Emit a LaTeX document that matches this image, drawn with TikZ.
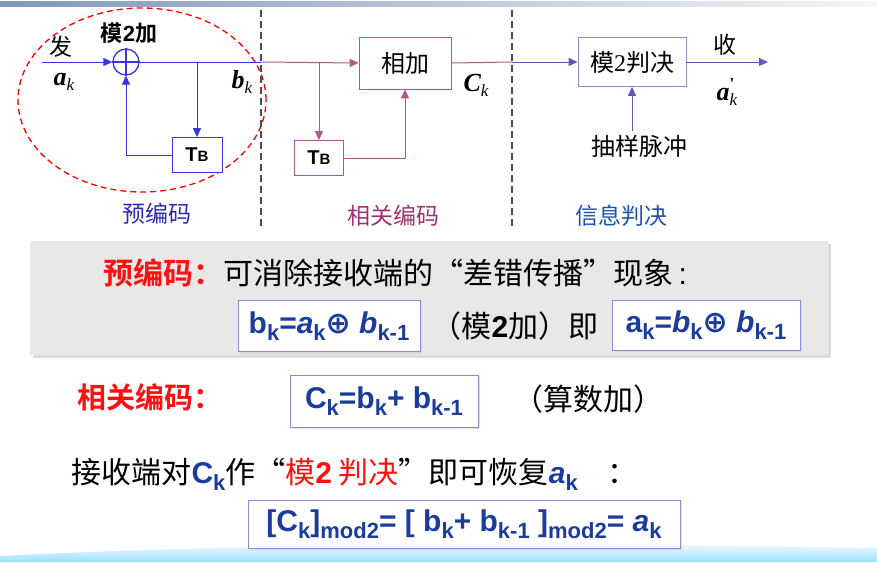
\documentclass[tikz,border=0pt]{standalone}
\usepackage{fontspec}
\setmainfont{Liberation Sans}
\newfontfamily\cjk{Noto Sans CJK SC}[BoldFont={Noto Sans CJK SC Bold}]
\newfontfamily\timesf{Liberation Serif}
\newfontfamily\symf{DejaVu Sans}
\usetikzlibrary{positioning, calc, arrows.meta, shadows}
\definecolor{lineBlue}{HTML}{3636E6}
\definecolor{linePink}{HTML}{B0588C}
\definecolor{lineViolet}{HTML}{5A5AB8}
\definecolor{boxViolet}{HTML}{8A8AD6}
\definecolor{textBlue}{HTML}{1B3C9B}
\definecolor{labelBlue}{HTML}{2A2AB0}
\definecolor{labelPink}{HTML}{A0306E}
\definecolor{labelInfo}{HTML}{2050B0}
\definecolor{panelGray}{HTML}{E8E8E8}
\definecolor{barBlue}{HTML}{7F97B8}
\definecolor{mathRed}{HTML}{FF1010}
% diagram symbols: bold italic letter with italic subscript
\newcommand{\SymK}[2]{{\timesf\bfseries\itshape #1}\raisebox{-5pt}{\fontsize{17}{17}\selectfont\timesf\itshape #2}}
% formula subscript
\newcommand{\Fsub}[1]{\raisebox{-7pt}{\fontsize{22}{22}\selectfont #1}}
\newcommand{\Oplus}{{\symf ⊕}}
\newcommand{\DelayText}{{\fontsize{20}{20}\selectfont\bfseries T}{\fontsize{15}{15}\selectfont\bfseries B}}
% full width quotes
\newcommand{\Lq}{\makebox[1em][r]{“}}
\newcommand{\Rq}{\makebox[1em][l]{”}}

\begin{document}
\begin{tikzpicture}[x=1pt, y=-1pt,
    flowarrow/.style={-{Triangle[length=9pt, width=8pt]}},
    blueline/.style={draw=lineBlue, line width=1pt},
    pinkline/.style={draw=linePink, line width=1pt},
    violetline/.style={draw=lineViolet, line width=1pt},
    diagtext/.style={font=\fontsize{23}{23}\selectfont\cjk},
    delaybox/.style={draw, line width=0.8pt, fill=white, minimum width=50pt, minimum height=35pt, inner sep=0pt},
    fbox/.style={draw=boxViolet, line width=0.9pt, fill=white, inner sep=0pt,
        drop shadow={shadow xshift=2pt, shadow yshift=-2pt, fill=gray!40},
        font=\fontsize{30}{30}\selectfont\bfseries, text=textBlue},
    linetext/.style={anchor=base west, font=\fontsize{30}{30}\selectfont\cjk},
    divider/.style={draw=black!70, line width=1.2pt, dash pattern=on 7pt off 4pt}
]
\useasboundingbox (0,0) rectangle (877,562);

% --- top bar and bottom wave ---
\shade[left color=barBlue, right color=barBlue!8] (0,1) rectangle (877,6);
\shade[top color=white, bottom color=blue!30!cyan!40] (0,562) -- (0,556) .. controls (300,541) and (600,543) .. (877,548) -- (877,562) -- cycle;

% --- pre-coding ---
\draw[red, line width=1.3pt, dash pattern=on 6pt off 4pt] (142,100) ellipse [x radius=124pt, y radius=92pt];
\coordinate (src) at (42,62);
\node[circle, draw=lineBlue, line width=1.3pt, minimum size=26pt, inner sep=0pt] (adder) at (126,62) {};
\draw[lineBlue, line width=1.3pt] (adder.north) -- (adder.south) (adder.west) -- (adder.east);
\node[delaybox, draw=lineBlue] (delayA) at (197,155) {\DelayText};
\coordinate (cutA) at (261,62);
\coordinate (tapA) at (197,62);
\draw[blueline, flowarrow] (src) -- (adder.west);
\draw[blueline] (adder.east) -- (cutA);
\draw[blueline, flowarrow] (tapA) -- (delayA.north);
\draw[blueline, flowarrow] (delayA.west) -| (adder.south);
\node[diagtext] (sendLbl) at (61,47) {发};
\node[font=\fontsize{26}{26}\selectfont] (akLbl) at (64,82) {\SymK{a}{k}};
\node[diagtext, font=\fontsize{22}{22}\selectfont\cjk\bfseries] (addLbl) at (129,33) {模{\rmfamily 2}加};
\node[font=\fontsize{26}{26}\selectfont] (bkLbl) at (242,82) {\SymK{b}{k}};
\node[diagtext, text=labelBlue] (preLbl) at (157,214) {预编码};

% --- correlative coding ---
\node[delaybox, draw=linePink, minimum width=92pt, minimum height=52pt, font=\fontsize{24}{24}\selectfont\cjk] (sumBox) at (405,63) {相加};
\node[delaybox, draw=linePink, minimum width=49pt] (delayB) at (319,158) {\DelayText};
\coordinate (tapB) at (319,62);
\coordinate (cutB) at (512,62);
\draw[pinkline, flowarrow] (cutA) -- (sumBox.west);
\draw[pinkline, flowarrow] (tapB) -- (delayB.north);
\draw[pinkline, flowarrow] (delayB.east) -| (sumBox.south);
\draw[pinkline] (sumBox.east) -- (cutB);
\node[font=\fontsize{26}{26}\selectfont] (ckLbl) at (476,85) {\SymK{C}{k}};
\node[diagtext, text=labelPink] (corLbl) at (393,216) {相关编码};

% --- decision ---
\node[delaybox, draw=boxViolet, minimum width=108pt, minimum height=49pt, font=\fontsize{24}{24}\selectfont\cjk] (decBox) at (632,62) {模{\timesf 2}判决};
\coordinate (sink) at (768,62);
\node[diagtext, font=\fontsize{24}{24}\selectfont\cjk] (pulse) at (639,146) {抽样脉冲};
\draw[violetline, flowarrow] (decBox.east) -- (sink);
\draw[violetline, flowarrow] (cutB) -- (decBox.west);
\draw[violetline, flowarrow] (pulse.north -| decBox.south) -- (decBox.south);
\node[diagtext] (recvLbl) at (725,45) {收};
\node[font=\fontsize{26}{26}\selectfont] (akOut) at (727,92) {{\timesf\bfseries\itshape a}\rlap{\raisebox{11pt}{\fontsize{17}{17}\selectfont\timesf\bfseries '}}\raisebox{-5pt}{\fontsize{17}{17}\selectfont\timesf\itshape k}};
\node[diagtext, text=labelInfo] (infoLbl) at (621,216) {信息判决};

% --- dividers ---
\draw[divider] (261,10) -- (261,228);
\draw[divider] (512,10) -- (512,228);

% --- notes panel ---
\fill[panelGray, drop shadow={shadow xshift=3pt, shadow yshift=-3pt, fill=gray!55}] (30,241) rectangle (828,355);
\node[linetext] (noteA) at (100,284) {\textcolor{mathRed}{\bfseries 预编码：}可消除接收端的\Lq 差错传播\Rq 现象{\rmfamily\,:}};
\node[fbox, minimum width=182pt, minimum height=51pt] (eqA) at (329,326) {b\Fsub{k}=\textit{a}\Fsub{k}\Oplus\ \textit{b}\Fsub{k-1}};
\node[linetext] (noteB) at (428,337) {（模{\rmfamily\bfseries 2}加）即};
\node[fbox, minimum width=188pt, minimum height=50pt] (eqB) at (706,325) {a\Fsub{k}=\textit{b}\Fsub{k}\Oplus\ \textit{b}\Fsub{k-1}};

% --- correlative rule ---
\node[linetext, text=mathRed, font=\fontsize{29}{29}\selectfont\cjk\bfseries] (noteC) at (74,408) {相关编码：};
\node[fbox, minimum width=188pt, minimum height=52pt] (eqC) at (384,401) {C\Fsub{k}=b\Fsub{k}+ b\Fsub{k-1}};
\node[linetext] (noteD) at (510,410) {（算数加）};

% --- recovery ---
\node[linetext] (noteE) at (68,483) {接收端对{\rmfamily\bfseries\color{textBlue}C\Fsub{k}}作\Lq\textcolor{mathRed}{模{\rmfamily\bfseries 2} 判决}\Rq 即可恢复{\rmfamily\bfseries\itshape\color{textBlue}a\Fsub{\upshape k}}\quad ：};
\node[fbox, minimum width=432pt, minimum height=48pt] (eqD) at (464,524) {[C\Fsub{k}]\Fsub{mod2}= [ b\Fsub{k}+ b\Fsub{k-1} ]\Fsub{mod2}= \textit{a}\Fsub{k}};
\end{tikzpicture}
\end{document}
